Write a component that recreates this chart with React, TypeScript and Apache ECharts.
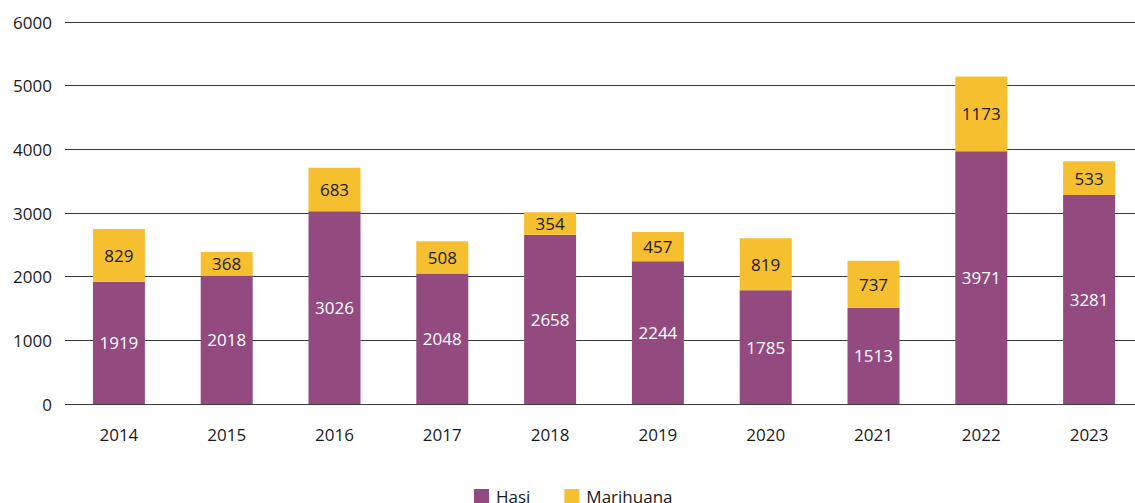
import React, { useEffect, useRef } from "react";
import * as echarts from "echarts";

const years = ["2014", "2015", "2016", "2017", "2018", "2019", "2020", "2021", "2022", "2023"];
const hasi = [1919, 2018, 3026, 2048, 2658, 2244, 1785, 1513, 3971, 3281];
const marihuana = [829, 368, 683, 508, 354, 457, 819, 737, 1173, 533];
const seriesNames = ["Hasi", "Marihuana"];

const FONT = "'Open Sans', sans-serif";

export default function App() {
  const ref = useRef<HTMLDivElement>(null);
  useEffect(() => {
    if (!ref.current) return;
    const chart = echarts.init(ref.current, undefined, { renderer: "svg" });
    chart.setOption({
      animation: false,
      textStyle: { fontFamily: FONT },
      grid: { left: 65, right: 0, top: 22, bottom: 99, containLabel: false },
      legend: {
        data: seriesNames,
        left: 474,
        top: 488,
        padding: 0,
        itemWidth: 15,
        itemHeight: 15,
        itemGap: 34,
        icon: "rect",
        textStyle: { fontFamily: FONT, fontSize: 17, color: "#1a1a1a", padding: [0, 0, 0, 2] },
      },
      xAxis: {
        type: "category",
        data: years,
        axisTick: { show: false },
        axisLine: { show: false },
        axisLabel: { fontFamily: FONT, fontSize: 17, color: "#1a1a1a", margin: 22 },
      },
      yAxis: {
        type: "value",
        min: 0,
        max: 6000,
        interval: 1000,
        axisLine: { show: false },
        axisTick: { show: false },
        axisLabel: {
          fontFamily: FONT,
          fontSize: 17,
          color: "#1a1a1a",
          margin: 13,
          formatter: (v: number) => String(v),
        },
        splitLine: { lineStyle: { color: "#3a3a3a", width: 1 } },
      },
      series: [
        {
          name: seriesNames[0],
          type: "bar",
          stack: "total",
          data: hasi,
          barWidth: 52,
          itemStyle: { color: "#924a7f" },
          label: {
            show: true,
            position: "inside",
            color: "#ffffff",
            fontFamily: FONT,
            fontSize: 17,
          },
        },
        {
          name: seriesNames[1],
          type: "bar",
          stack: "total",
          data: marihuana,
          barWidth: 52,
          itemStyle: { color: "#f5bf30" },
          label: {
            show: true,
            position: "inside",
            color: "#1a1a1a",
            fontFamily: FONT,
            fontSize: 17,
          },
        },
      ],
    });
    return () => chart.dispose();
  }, []);
  return (
    <div
      ref={ref}
      style={{ position: "fixed", left: 0, top: 0, width: 1143, height: 503, background: "#fff" }}
    />
  );
}
